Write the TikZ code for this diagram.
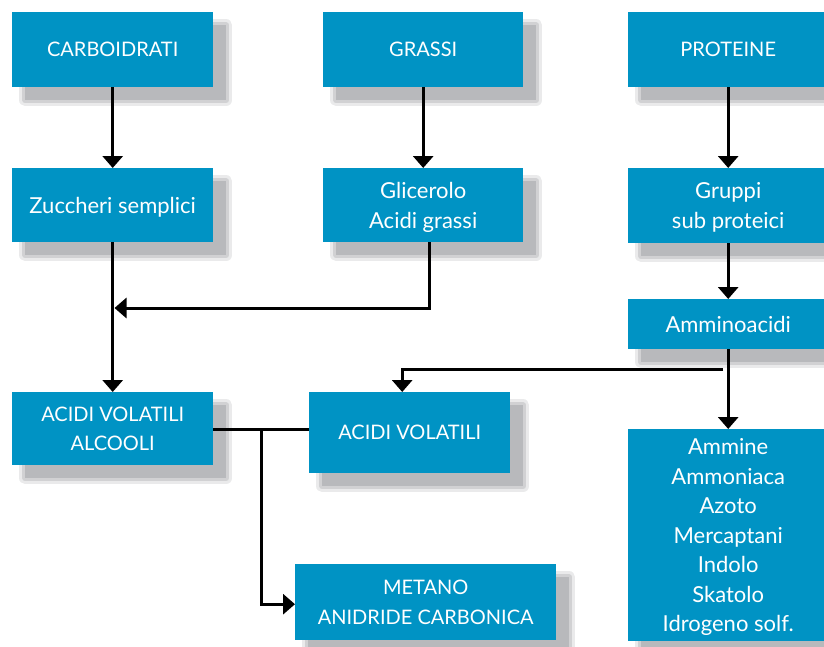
\documentclass[tikz,border=0pt]{standalone}
\usepackage{fontspec}
\setmainfont{Lato}
\usetikzlibrary{arrows.meta}
\definecolor{boxblue}{RGB}{0,147,196}
\definecolor{shadowgrey}{RGB}{184,185,188}
\begin{document}
\begin{tikzpicture}[x=1pt,y=-1pt,
  box/.style={fill=boxblue, text=white, anchor=north west, inner sep=0pt, align=center, text depth=0pt,
    preaction={draw=shadowgrey, draw opacity=0.3, line width=12pt, line join=round, transform canvas={shift={(13pt,-13pt)}}},
    preaction={draw=shadowgrey, draw opacity=0.5, line width=6pt, line join=round, transform canvas={shift={(13pt,-13pt)}}},
    preaction={fill=shadowgrey, transform canvas={shift={(13pt,-13pt)}}}},
  caps/.style={font=\fontsize{20}{29.5}\selectfont},
  mixed/.style={font=\fontsize{22}{29.5}\selectfont},
  arr/.style={line width=3pt, -{Triangle[width=20pt,length=12pt]}},
  ln/.style={line width=3pt}]
\useasboundingbox (0,0) rectangle (824,646);
\node[box,caps,minimum width=201pt,minimum height=75pt] (carbo) at (12,12) {CARBOIDRATI};
\node[box,caps,minimum width=200pt,minimum height=75pt] (grassi) at (323,12) {GRASSI};
\node[box,caps,minimum width=200pt,minimum height=75pt] (prot) at (628,12) {PROTEINE};
\node[box,mixed,minimum width=201pt,minimum height=74pt] (zucc) at (12,168) {Zuccheri semplici};
\node[box,mixed,minimum width=200pt,minimum height=74pt] (glic) at (323,168) {Glicerolo\\Acidi grassi};
\node[box,mixed,minimum width=200pt,minimum height=75pt] (grup) at (628,168) {Gruppi\\sub proteici};
\node[box,mixed,minimum width=200pt,minimum height=50pt] (ammino) at (628,299) {Amminoacidi};
\node[box,mixed,minimum width=200pt,minimum height=212pt,text depth=-10pt] (ammine) at (628,429) {Ammine\\Ammoniaca\\Azoto\\Mercaptani\\Indolo\\Skatolo\\Idrogeno solf.};
\node[box,caps,minimum width=201pt,minimum height=73pt] (avalc) at (12,392) {ACIDI VOLATILI\\ALCOOLI};
\node[box,caps,minimum width=201pt,minimum height=81pt] (av) at (309,392) {ACIDI VOLATILI};
\node[box,caps,minimum width=261pt,minimum height=76pt] (metano) at (295,564) {METANO\\ANIDRIDE CARBONICA};
\draw[arr] (carbo) -- (zucc);
\draw[arr] (grassi) -- (glic);
\draw[arr] (prot) -- (grup);
\draw[arr] (zucc) -- (avalc);
\draw[arr] (grup) -- (ammino);
\draw[arr] (ammino) -- (ammine);
\coordinate (j) at (114.5,308);
\draw[arr] ([xshift=6pt]glic.south) |- (j);
\coordinate (b) at (723,369);
\draw[arr] (b) -| ([xshift=-7.5pt]av.north);
\draw[ln] (avalc.east |- 0,429) -- (av.west |- 0,429);
\coordinate (k) at (261,429);
\draw[arr] (k) |- ([yshift=-2pt]metano.west);
\end{tikzpicture}
\end{document}
